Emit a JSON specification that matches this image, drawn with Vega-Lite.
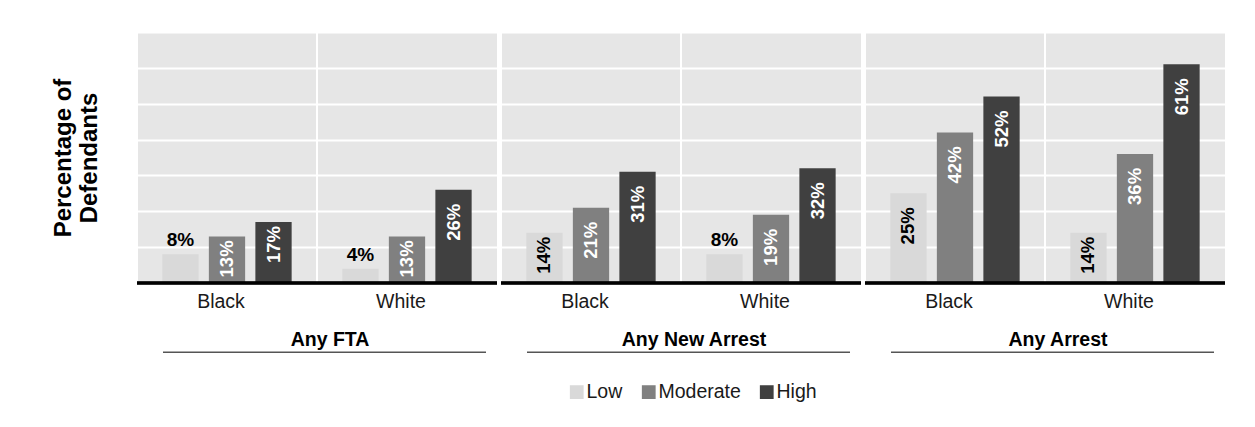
{
  "$schema": "https://vega.github.io/schema/vega-lite/v6.json",
  "autosize": {"type": "pad"},
  "padding": {"left": 51, "top": 31, "right": 0, "bottom": 0},
  "background": "white",
  "data": {
    "values": [
      {"Outcome": "Any FTA", "Race": "Black", "Risk": "Low", "Value": 0.08},
      {"Outcome": "Any FTA", "Race": "Black", "Risk": "Moderate", "Value": 0.13},
      {"Outcome": "Any FTA", "Race": "Black", "Risk": "High", "Value": 0.17},
      {"Outcome": "Any FTA", "Race": "White", "Risk": "Low", "Value": 0.04},
      {"Outcome": "Any FTA", "Race": "White", "Risk": "Moderate", "Value": 0.13},
      {"Outcome": "Any FTA", "Race": "White", "Risk": "High", "Value": 0.26},
      {"Outcome": "Any New Arrest", "Race": "Black", "Risk": "Low", "Value": 0.14},
      {"Outcome": "Any New Arrest", "Race": "Black", "Risk": "Moderate", "Value": 0.21},
      {"Outcome": "Any New Arrest", "Race": "Black", "Risk": "High", "Value": 0.31},
      {"Outcome": "Any New Arrest", "Race": "White", "Risk": "Low", "Value": 0.08},
      {"Outcome": "Any New Arrest", "Race": "White", "Risk": "Moderate", "Value": 0.19},
      {"Outcome": "Any New Arrest", "Race": "White", "Risk": "High", "Value": 0.32},
      {"Outcome": "Any Arrest", "Race": "Black", "Risk": "Low", "Value": 0.25},
      {"Outcome": "Any Arrest", "Race": "Black", "Risk": "Moderate", "Value": 0.42},
      {"Outcome": "Any Arrest", "Race": "Black", "Risk": "High", "Value": 0.52},
      {"Outcome": "Any Arrest", "Race": "White", "Risk": "Low", "Value": 0.14},
      {"Outcome": "Any Arrest", "Race": "White", "Risk": "Moderate", "Value": 0.36},
      {"Outcome": "Any Arrest", "Race": "White", "Risk": "High", "Value": 0.61}
    ]
  },
  "facet": {
    "column": {
      "field": "Outcome",
      "type": "nominal",
      "sort": ["Any FTA", "Any New Arrest", "Any Arrest"],
      "title": null,
      "header": {"labels": false, "title": null}
    }
  },
  "spacing": 0,
  "spec": {
    "width": 360,
    "height": 251,
    "encoding": {
      "x": {
        "field": "Race",
        "type": "nominal",
        "sort": ["Black", "White"],
        "scale": {"paddingInner": 0, "paddingOuter": 0},
        "axis": null
      },
      "xOffset": {
        "field": "Risk",
        "type": "nominal",
        "sort": ["Low", "Moderate", "High"],
        "scale": {"paddingInner": 0.22, "paddingOuter": 0.545}
      },
      "y": {
        "field": "Value",
        "type": "quantitative",
        "scale": {"domain": [0, 0.7], "nice": false},
        "axis": {
          "title": ["Percentage of", "Defendants"],
          "titleFont": "Liberation Sans",
          "titleFontSize": 24,
          "titleFontWeight": "bold",
          "titleColor": "black",
          "titlePadding": 34,
          "titleLineHeight": 26,
          "labels": false,
          "ticks": false,
          "domain": false,
          "grid": true,
          "gridColor": "white",
          "gridWidth": 2,
          "values": [0.1, 0.2, 0.3, 0.4, 0.5, 0.6, 0.7]
        }
      }
    },
    "layer": [
      {
        "mark": {"type": "rule", "color": "white", "strokeWidth": 2},
        "encoding": {
          "x": {"field": "Race", "type": "nominal", "sort": ["Black", "White"], "bandPosition": 0},
          "xOffset": null,
          "y": null
        }
      },
      {
        "mark": {"type": "bar"},
        "encoding": {
          "color": {
            "field": "Risk",
            "type": "nominal",
            "sort": ["Low", "Moderate", "High"],
            "scale": {"domain": ["Low", "Moderate", "High"], "range": ["#d9d9d9", "#808080", "#404040"]},
            "legend": {
              "orient": "none",
              "legendX": 430,
              "legendY": 350,
              "direction": "horizontal",
              "title": null,
              "symbolType": "square",
              "symbolSize": 190,
              "symbolStrokeWidth": 0,
              "labelFont": "Liberation Sans",
              "labelFontSize": 19.5,
              "labelColor": "#1a1a1a",
              "labelOffset": 0,
              "columnPadding": 16
            }
          }
        }
      },
      {
        "mark": {"type": "rule", "color": "black", "strokeWidth": 2.5},
        "encoding": {
          "x": null,
          "xOffset": null,
          "y": {"datum": 0}
        }
      },
      {
        "transform": [{"filter": "datum.Value >= 0.18"}],
        "mark": {"type": "text", "angle": 270, "align": "right", "baseline": "middle", "dx": -14, "font": "Liberation Sans", "fontSize": 18.5, "fontWeight": "bold"},
        "encoding": {
          "text": {"field": "Value", "type": "quantitative", "format": ".0%"},
          "color": {"condition": {"test": "datum.Risk === 'Low'", "value": "black"}, "value": "white"}
        }
      },
      {
        "transform": [{"filter": "datum.Value >= 0.1 && datum.Value < 0.18"}],
        "mark": {"type": "text", "angle": 270, "align": "right", "baseline": "middle", "dx": -4, "font": "Liberation Sans", "fontSize": 18.5, "fontWeight": "bold"},
        "encoding": {
          "text": {"field": "Value", "type": "quantitative", "format": ".0%"},
          "color": {"condition": {"test": "datum.Risk === 'Low'", "value": "black"}, "value": "white"}
        }
      },
      {
        "transform": [{"filter": "datum.Value < 0.1"}],
        "mark": {"type": "text", "align": "center", "baseline": "bottom", "dy": -4, "font": "Liberation Sans", "fontSize": 19, "fontWeight": "bold", "color": "black"},
        "encoding": {
          "text": {"field": "Value", "type": "quantitative", "format": ".0%"}
        }
      },
      {
        "transform": [{"filter": "datum.Risk === 'Moderate'"}],
        "mark": {"type": "text", "align": "center", "baseline": "middle", "dx": -6, "dy": 19, "font": "Liberation Sans", "fontSize": 19.5, "color": "#1a1a1a"},
        "encoding": {
          "xOffset": null,
          "y": {"datum": 0},
          "text": {"field": "Race", "type": "nominal"}
        }
      },
      {
        "transform": [{"filter": "datum.Race === 'White' && datum.Risk === 'Low'"}],
        "mark": {"type": "text", "align": "center", "baseline": "middle", "dx": 13, "font": "Liberation Sans", "fontSize": 19.5, "fontWeight": "bold", "color": "black"},
        "encoding": {
          "x": {"field": "Race", "type": "nominal", "sort": ["Black", "White"], "bandPosition": 0},
          "xOffset": null,
          "y": {"datum": -0.158},
          "text": {"field": "Outcome", "type": "nominal"}
        }
      },
      {
        "transform": [{"filter": "datum.Race === 'White' && datum.Risk === 'Low'"}],
        "mark": {"type": "rule", "color": "#555555", "strokeWidth": 1.5, "strokeDash": [323, 37], "strokeDashOffset": 349},
        "encoding": {
          "x": null,
          "xOffset": null,
          "y": {"datum": -0.193}
        }
      }
    ]
  },
  "config": {
    "view": {"fill": "#e6e6e6", "stroke": null}
  }
}
